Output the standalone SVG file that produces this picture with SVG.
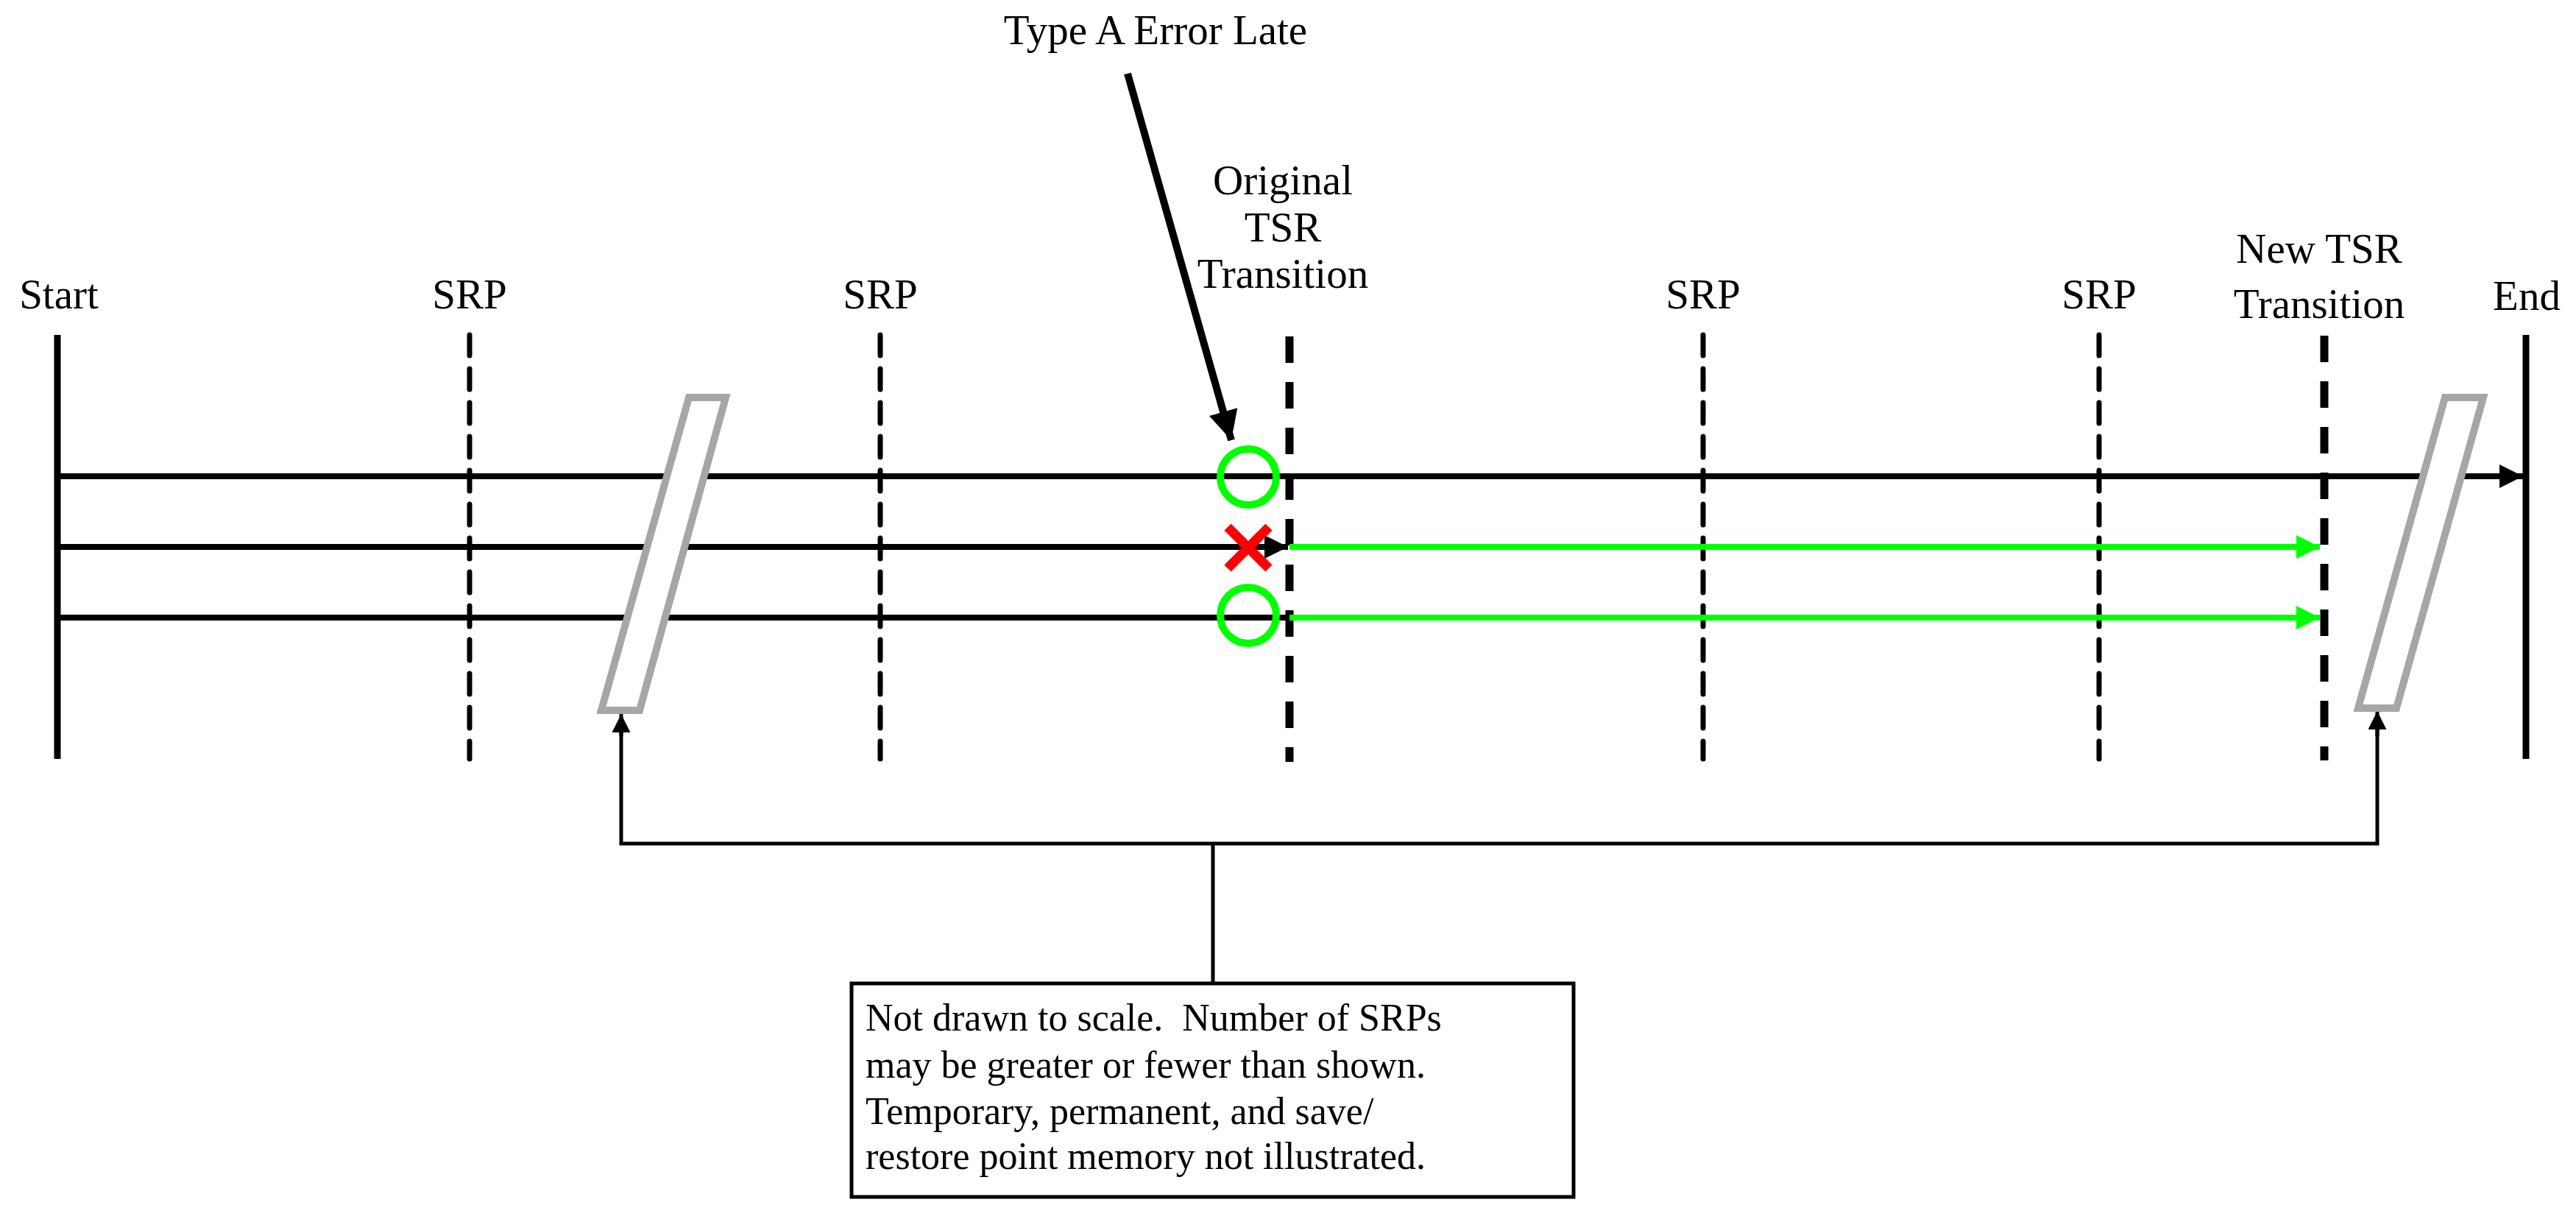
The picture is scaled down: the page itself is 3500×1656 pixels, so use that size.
<svg xmlns="http://www.w3.org/2000/svg" width="3500" height="1656" viewBox="0 0 3500 1656">
<style>
text{font-family:"Liberation Serif","Times New Roman",serif;fill:#000}
.lbl{font-size:57px;text-anchor:middle}
.srp{stroke:#000;stroke-width:7;stroke-dasharray:28 18;stroke-linecap:round;fill:none}
.tsr{stroke:#000;stroke-width:11;stroke-dasharray:36 26;fill:none}
.bar{stroke:#000;stroke-width:9;fill:none}
.ln{stroke:#000;stroke-width:8;fill:none}
.gr{stroke:#00ff00;stroke-width:8;fill:none}
.brk{stroke:#a6a6a6;stroke-width:10;fill:#fff}
.circ{stroke:#00ff00;stroke-width:10;fill:none}
.thin{stroke:#000;stroke-width:5;fill:none}
</style>
<defs>
<marker id="ab" viewBox="0 0 10 10" refX="10" refY="5" markerWidth="5" markerHeight="4" orient="auto" markerUnits="strokeWidth"><path d="M0,0L10,5L0,10z" fill="#000"/></marker>
<marker id="ag" viewBox="0 0 10 10" refX="10" refY="5" markerWidth="5" markerHeight="4" orient="auto" markerUnits="strokeWidth"><path d="M0,0L10,5L0,10z" fill="#00ff00"/></marker>
<marker id="at" viewBox="0 0 10 10" refX="10" refY="5" markerWidth="4" markerHeight="4" orient="auto" markerUnits="strokeWidth"><path d="M0,0L10,5L0,10z" fill="#000"/></marker>
<marker id="as" viewBox="0 0 10 10" refX="10" refY="5" markerWidth="5" markerHeight="5" orient="auto" markerUnits="strokeWidth"><path d="M0,0L10,5L0,10z" fill="#000"/></marker>
</defs>
<g id="start"><line class="bar" x1="78" y1="455" x2="78" y2="1031"/><text class="lbl" x="80" y="419">Start</text></g>
<g id="srp1"><line class="srp" x1="638" y1="455" x2="638" y2="1031"/><text class="lbl" x="638" y="419">SRP</text></g>
<g id="srp2"><line class="srp" x1="1196" y1="455" x2="1196" y2="1031"/><text class="lbl" x="1196" y="419">SRP</text></g>
<g id="orig-tsr"><line class="tsr" x1="1752" y1="457" x2="1752" y2="1035"/><text class="lbl" x="1743" y="264">Original</text><text class="lbl" x="1743" y="328">TSR</text><text class="lbl" x="1743" y="391">Transition</text></g>
<g id="srp3"><line class="srp" x1="2314" y1="455" x2="2314" y2="1031"/><text class="lbl" x="2314" y="419">SRP</text></g>
<g id="srp4"><line class="srp" x1="2852" y1="455" x2="2852" y2="1031"/><text class="lbl" x="2852" y="419">SRP</text></g>
<g id="new-tsr"><line class="tsr" x1="3158" y1="456" x2="3158" y2="1033"/><text class="lbl" x="3151" y="357">New TSR</text><text class="lbl" x="3151" y="432">Transition</text></g>
<g id="end"><line class="bar" x1="3432" y1="455" x2="3432" y2="1031"/><text class="lbl" x="3433" y="421">End</text></g>
<g id="type-a-label"><text class="lbl" x="1570" y="60">Type A Error Late</text></g>
<g id="connectors">
<line class="ln" x1="78" y1="647" x2="3428" y2="647" marker-end="url(#ab)"/>
<line class="ln" x1="78" y1="743" x2="1750" y2="743" marker-end="url(#ab)"/>
<line class="ln" x1="78" y1="839" x2="1750" y2="839"/>
<line class="gr" x1="1752" y1="743" x2="3152" y2="743" marker-end="url(#ag)"/>
<line class="gr" x1="1752" y1="839" x2="3152" y2="839" marker-end="url(#ag)"/>
<line stroke="#000" stroke-width="10" x1="1532" y1="100" x2="1673" y2="598" marker-end="url(#at)"/>
<polyline class="thin" points="1648,1334 1648,1146"/>
<polyline class="thin" points="844,975 844,1146 3230,1146 3230,975"/>
<line class="thin" x1="844" y1="1000" x2="844" y2="970" marker-end="url(#as)"/>
<line class="thin" x1="3230" y1="1000" x2="3230" y2="966" marker-end="url(#as)"/>
</g>
<g id="break-left"><polygon class="brk" points="936,540 986,540 869,965 817,965"/></g>
<g id="break-right"><polygon class="brk" points="3322,540 3374,540 3256,962 3204,962"/></g>
<g id="markers">
<circle class="circ" cx="1696" cy="648" r="38"/>
<circle class="circ" cx="1696" cy="836" r="38"/>
<path d="M1668,716L1724,772M1724,716L1668,772" stroke="#ff0000" stroke-width="13"/>
</g>
<g id="note">
<rect x="1157" y="1336" width="981" height="290" fill="#fff" stroke="#000" stroke-width="5"/>
<text x="1176" y="1400" font-size="52" xml:space="preserve">Not drawn to scale.  Number of SRPs</text>
<text x="1176" y="1464" font-size="52">may be greater or fewer than shown.</text>
<text x="1176" y="1527" font-size="52">Temporary, permanent, and save/</text>
<text x="1176" y="1588" font-size="52">restore point memory not illustrated.</text>
</g>
</svg>
